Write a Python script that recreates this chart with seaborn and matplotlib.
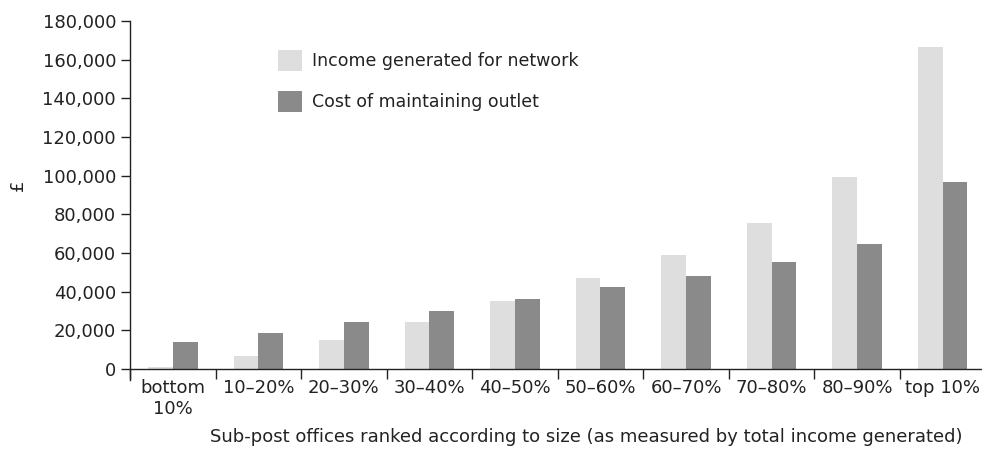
import matplotlib
matplotlib.use("Agg")
import matplotlib.pyplot as plt
import matplotlib.patches as mpatches
import seaborn as sns
import pandas as pd
from matplotlib.ticker import FuncFormatter, FixedLocator

categories = ["bottom\n10%", "10–20%", "20–30%", "30–40%", "40–50%",
              "50–60%", "60–70%", "70–80%", "80–90%", "top 10%"]
income = [1000, 6700, 15000, 24100, 35200, 47000, 59000, 75700, 99500, 166400]
cost = [14000, 18800, 24500, 29800, 36400, 42600, 48100, 55200, 64700, 96700]
series_names = ["Income generated for network", "Cost of maintaining outlet"]
colors = ["#dedede", "#8a8a8a"]

df = pd.DataFrame({
    "cat": categories * 2,
    "val": income + cost,
    "series": [series_names[0]] * len(categories) + [series_names[1]] * len(categories),
})

sns.set_style("white")
plt.rcParams["font.family"] = ["DejaVu Sans"]

fig = plt.figure(figsize=(9.82, 4.58), dpi=100)
ax = fig.add_axes([130 / 982, 1 - 380 / 458, 1 - 130 / 982, (380 - 21) / 458])

sns.barplot(data=df, x="cat", y="val", hue="series", palette=colors,
            width=0.58, gap=0, saturation=1, ax=ax, legend=False,
            order=categories, hue_order=series_names)
for p in ax.patches:
    p.set_edgecolor("none")

ax.set_ylim(-5690, 180000)
ax.set_xlim(-0.5, 9.46)
ax.spines["top"].set_visible(False)
ax.spines["right"].set_visible(False)
for s in ["left", "bottom"]:
    ax.spines[s].set_color("#222222")
    ax.spines[s].set_linewidth(1.0)
ax.spines["bottom"].set_position(("data", 0))

ax.set_yticks(range(0, 180001, 20000))
ax.yaxis.set_major_formatter(FuncFormatter(lambda v, p: f"{int(v):,}"))
ax.tick_params(axis="y", direction="out", length=6.5, width=1, color="#222222",
               labelsize=13, labelcolor="#222222", left=True, pad=3.5)

ax.set_xticks(range(len(categories)))
ax.set_xticklabels(categories)
ax.tick_params(axis="x", which="major", length=0, labelsize=13,
               labelcolor="#222222", pad=7)
ax.xaxis.set_minor_locator(FixedLocator([i - 0.5 for i in range(len(categories) + 1)]))
ax.tick_params(axis="x", which="minor", direction="out", length=7, width=1,
               color="#222222", bottom=True)

ax.set_xlabel("")
ax.set_ylabel("")
fig.text(18 / 982, 1 - 185 / 458, "£", rotation=90, ha="center", va="center",
         fontsize=13, color="#222222")
fig.text(586 / 982, 1 - 437 / 458,
         "Sub-post offices ranked according to size (as measured by total income generated)",
         ha="center", va="center", fontsize=13, color="#222222")

handles = [mpatches.Patch(facecolor=c, edgecolor="none", label=n)
           for c, n in zip(colors, series_names)]
ax.legend(handles=handles, loc="upper left", bbox_to_anchor=(148 / 852, (380 - 50) / 359),
          frameon=False, fontsize=12.5, labelspacing=1.12, handlelength=1.38,
          handleheight=1.5, handletextpad=0.55, borderpad=0, borderaxespad=0,
          labelcolor="#222222")

fig.savefig("out.png", dpi=100)
